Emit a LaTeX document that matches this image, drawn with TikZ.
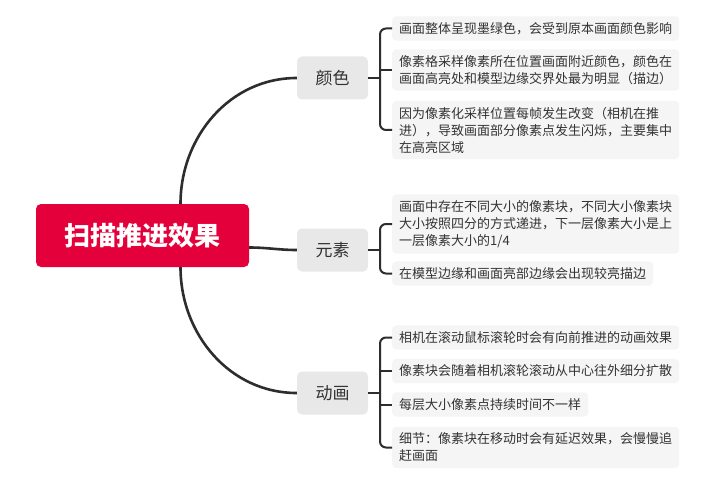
\documentclass[tikz,border=0pt]{standalone}
\usepackage{fontspec}
\setmainfont{Noto Sans CJK SC}
\usepackage{xcolor}
\definecolor{mmred}{RGB}{228,0,58}
\definecolor{mmgray}{RGB}{232,232,232}
\definecolor{mmleaf}{RGB}{245,245,245}
\definecolor{mmtext}{RGB}{51,51,51}
\definecolor{mmline}{RGB}{45,45,45}
\usetikzlibrary{positioning,calc}
\tikzset{
  rootnode/.style={fill=mmred, rounded corners=5pt, text=white,
                   font=\fontsize{26}{30}\selectfont\bfseries,
                   minimum width=213pt, minimum height=63pt},
  branchnode/.style={fill=mmgray, rounded corners=5pt, text=mmtext,
                     font=\fontsize{17}{20}\selectfont,
                     minimum width=71pt, minimum height=43pt},
  leafnode/.style={fill=mmleaf, rounded corners=4pt, text=mmtext, anchor=west,
                   font=\fontsize{13}{17}\selectfont, align=left,
                   inner xsep=7pt, inner ysep=6pt},
  link/.style={draw=mmline, line width=2.6pt},
  bracket/.style={draw=mmline, line width=2pt, rounded corners=6pt},
}

\begin{document}
\begin{tikzpicture}[x=1pt, y=1pt]
\fill[white] (0,0) rectangle (720,-484);
\useasboundingbox (0,0) rectangle (720,-484);

% --- root ---
\node[rootnode] (root) at (142.5,-235.5) {扫描推进效果};

% --- branches ---
\node[branchnode] (color) at (332.5,-78) {颜色};
\node[branchnode] (elem) at (332.5,-250) {元素};
\node[branchnode] (anim) at (332.5,-393) {动画};

\draw[link] ([xshift=38pt]root.north) to[out=90, in=180] (color.west);
\draw[link] ([yshift=-12pt]root.east) to[out=0, in=180] (elem.west);
\draw[link] ([xshift=38pt]root.south) to[out=-90, in=180] (anim.west);

% --- colour leaves ---
\node[leafnode] (color1) at (392,-28.5) {画面整体呈现墨绿色，会受到原本画面颜色影响};
\node[leafnode] (color2) at (392,-70) {像素格采样像素所在位置画面附近颜色，颜色在\\画面高亮处和模型边缘交界处最为明显（描边）};
\node[leafnode] (color3) at (392,-130) {因为像素化采样位置每帧发生改变（相机在推\\进），导致画面部分像素点发生闪烁，主要集中\\在高亮区域};

\draw[bracket] (color1.west) -| ([xshift=-12pt]color3.west) -- (color3.west);
\draw[bracket] ([xshift=-12pt]color2.west) -- (color2.west);
\draw[bracket] (color.east) -- ++(12,0);

% --- element leaves ---
\node[leafnode] (elem1) at (392,-224) {画面中存在不同大小的像素块，不同大小像素块\\大小按照四分的方式递进，下一层像素大小是上\\一层像素大小的1/4};
\node[leafnode] (elem2) at (392,-273.5) {在模型边缘和画面亮部边缘会出现较亮描边};

\draw[bracket] (elem1.west) -| ([xshift=-12pt]elem2.west) -- (elem2.west);
\draw[bracket] (elem.east) -- ++(12,0);

% --- animation leaves ---
\node[leafnode] (anim1) at (392,-337.5) {相机在滚动鼠标滚轮时会有向前推进的动画效果};
\node[leafnode] (anim2) at (392,-371) {像素块会随着相机滚轮滚动从中心往外细分扩散};
\node[leafnode] (anim3) at (392,-404.5) {每层大小像素点持续时间不一样};
\node[leafnode] (anim4) at (392,-447.5) {细节：像素块在移动时会有延迟效果，会慢慢追\\赶画面};

\draw[bracket] (anim1.west) -| ([xshift=-12pt]anim4.west) -- (anim4.west);
\draw[bracket] ([xshift=-12pt]anim2.west) -- (anim2.west);
\draw[bracket] ([xshift=-12pt]anim3.west) -- (anim3.west);
\draw[bracket] (anim.east) -- ++(12,0);

\end{tikzpicture}
\end{document}
